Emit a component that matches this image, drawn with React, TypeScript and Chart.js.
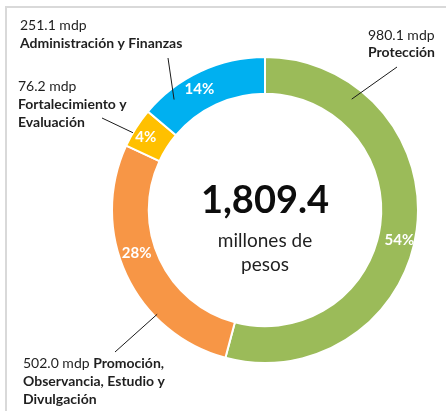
import React, { useEffect, useRef } from "react";
import { Chart, registerables } from "chart.js";

Chart.register(...registerables);

// ---- data ----
const categories = [
  "Protección",
  "Promoción, Observancia, Estudio y Divulgación",
  "Fortalecimiento y Evaluación",
  "Administración y Finanzas",
];
const values = [980.1, 502.0, 76.2, 251.1];
const amountLabels = ["980.1 mdp", "502.0 mdp", "76.2 mdp", "251.1 mdp"];
const percentLabels = ["54%", "28%", "4%", "14%"];
const colors = ["#9BBB59", "#F79646", "#FFC000", "#00B0F0"];
const totalLabel = "1,809.4";
const totalSubtitle = ["millones de", "pesos"];

// ---- layout of annotations (not data) ----
type Run = { t: string; b: boolean };
const calloutLines: Run[][][] = [
  [[{ t: amountLabels[0], b: false }], [{ t: "Protección", b: true }]],
  [
    [{ t: amountLabels[1] + " ", b: false }, { t: "Promoción,", b: true }],
    [{ t: "Observancia, Estudio y", b: true }],
    [{ t: "Divulgación", b: true }],
  ],
  [
    [{ t: amountLabels[2], b: false }],
    [{ t: "Fortalecimiento y", b: true }],
    [{ t: "Evaluación", b: true }],
  ],
  [[{ t: amountLabels[3], b: false }], [{ t: "Administración y Finanzas", b: true }]],
];
const calloutPos = [
  { x: 368, y: 35 },
  { x: 23, y: 363 },
  { x: 18, y: 86 },
  { x: 20, y: 25 },
];
const calloutLineH = [17, 18, 18, 18];
// leader: start point near text, end inside slice (fraction of slice angle, fraction of outer radius)
const leaderStart = [
  { x: 397, y: 67 },
  { x: 115, y: 352 },
  { x: 102, y: 118 },
  { x: 168, y: 58 },
];
const leaderEnd = [
  { f: 0.195, r: 0.92 },
  { f: 0.31, r: 0.98 },
  { f: 0.36, r: 1.0 },
  { f: 0.21, r: 0.935 },
];
const pctPos = [
  { f: 0.526, r: 0.9 },
  { f: 0.565, r: 0.885 },
  { f: 0.44, r: 0.915 },
  { f: 0.43, r: 0.9 },
];

const FONT = "Lato, 'Noto Sans', sans-serif";

const overlayPlugin = {
  id: "overlay",
  afterDraw(chart: any) {
    const ctx: CanvasRenderingContext2D = chart.ctx;
    const meta = chart.getDatasetMeta(0);
    ctx.save();

    // frame
    ctx.strokeStyle = "#D9D9D9";
    ctx.lineWidth = 2;
    ctx.beginPath();
    ctx.moveTo(6, 411);
    ctx.lineTo(6, 7);
    ctx.lineTo(446, 7);
    ctx.stroke();

    const arcs = meta.data;
    // percent labels
    ctx.fillStyle = "#FFFFFF";
    ctx.font = `bold 15px ${FONT}`;
    ctx.textAlign = "center";
    ctx.textBaseline = "middle";
    arcs.forEach((arc: any, i: number) => {
      const p = arc.getProps(["x", "y", "startAngle", "endAngle", "outerRadius"], true);
      const a = p.startAngle + (p.endAngle - p.startAngle) * pctPos[i].f;
      const r = p.outerRadius * pctPos[i].r;
      ctx.fillText(percentLabels[i], p.x + Math.cos(a) * r, p.y + Math.sin(a) * r);
    });

    // leader lines
    ctx.strokeStyle = "#1A1A1A";
    ctx.lineWidth = 1;
    arcs.forEach((arc: any, i: number) => {
      const p = arc.getProps(["x", "y", "startAngle", "endAngle", "outerRadius"], true);
      const a = p.startAngle + (p.endAngle - p.startAngle) * leaderEnd[i].f;
      const r = p.outerRadius * leaderEnd[i].r;
      ctx.beginPath();
      ctx.moveTo(leaderStart[i].x, leaderStart[i].y);
      ctx.lineTo(p.x + Math.cos(a) * r, p.y + Math.sin(a) * r);
      ctx.stroke();
    });

    // callouts
    ctx.fillStyle = "#1F1F1F";
    ctx.textAlign = "left";
    ctx.textBaseline = "middle";
    calloutLines.forEach((lines, i) => {
      lines.forEach((runs, li) => {
        let x = calloutPos[i].x;
        const y = calloutPos[i].y + li * calloutLineH[i];
        runs.forEach((run) => {
          ctx.font = `${run.b ? "bold " : ""}14px ${FONT}`;
          ctx.fillText(run.t, x, y);
          x += ctx.measureText(run.t).width;
        });
      });
    });

    // center text
    const c = arcs[0];
    const cx = c.x;
    const cy = c.y;
    ctx.textAlign = "center";
    ctx.fillStyle = "#0D0D0D";
    ctx.font = `bold 38px ${FONT}`;
    ctx.fillText(totalLabel, cx, cy - 9);
    ctx.fillStyle = "#1F1F1F";
    ctx.font = `19px ${FONT}`;
    ctx.fillText(totalSubtitle[0], cx, cy + 31);
    ctx.fillText(totalSubtitle[1], cx, cy + 55);

    ctx.restore();
  },
};

export default function App() {
  const ref = useRef<HTMLCanvasElement>(null);
  useEffect(() => {
    if (!ref.current) return;
    const chart = new Chart(ref.current, {
      type: "doughnut",
      data: {
        labels: categories,
        datasets: [
          {
            data: values,
            backgroundColor: colors,
            borderColor: "#FFFFFF",
            borderWidth: 2,
          },
        ],
      },
      options: {
        responsive: false,
        animation: false,
        cutout: "76%",
        layout: { padding: { left: 111, right: 27, top: 56, bottom: 47 } },
        plugins: {
          legend: { display: false },
          tooltip: { enabled: false },
          title: { display: false },
        },
      },
      plugins: [overlayPlugin],
    });
    return () => chart.destroy();
  }, []);
  return (
    <div style={{ position: "fixed", left: 0, top: 0, width: 446, height: 411, background: "#FFFFFF" }}>
      <canvas ref={ref} width={446} height={411} style={{ width: 446, height: 411, display: "block" }} />
    </div>
  );
}
